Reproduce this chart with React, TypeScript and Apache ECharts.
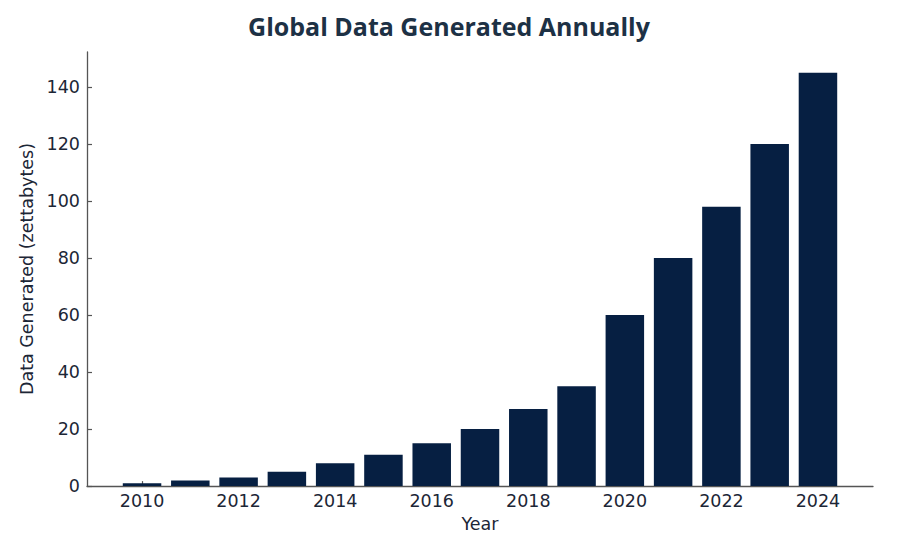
import React, { useEffect, useRef } from "react";
import * as echarts from "echarts";

const years = [2010, 2011, 2012, 2013, 2014, 2015, 2016, 2017, 2018, 2019, 2020, 2021, 2022, 2023, 2024];
const dataZB = [1, 2, 3, 5, 8, 11, 15, 20, 27, 35, 60, 80, 98, 120, 145];
const xTickYears = [2010, 2012, 2014, 2016, 2018, 2020, 2022, 2024];
const yTicks = [0, 20, 40, 60, 80, 100, 120, 140];

const TITLE = "Global Data Generated Annually";
const X_NAME = "Year";
const Y_NAME = "Data Generated (zettabytes)";

export default function App() {
  const ref = useRef<HTMLDivElement>(null);
  useEffect(() => {
    document.body.style.margin = "0";
    if (!ref.current) return;
    const chart = echarts.init(ref.current, undefined, { renderer: "svg" });
    const textColor = "#1c2636";
    const axisColor = "#555555";
    const font = "DejaVu Sans";
    const fs = 17.5;
    chart.setOption({
      animation: false,
      backgroundColor: "#ffffff",
      title: {
        text: TITLE,
        left: "center",
        top: 8,
        textStyle: {
          fontFamily: "Open Sans",
          fontWeight: 700,
          fontSize: 25,
          color: "#1d3145",
        },
      },
      grid: { left: 87, right: 25, top: 52, bottom: 48, containLabel: false },
      xAxis: {
        type: "value",
        min: 2008.86,
        max: 2025.14,
        name: X_NAME,
        nameLocation: "middle",
        nameGap: 26,
        nameTextStyle: { fontFamily: font, fontSize: fs, color: textColor },
        axisLine: { show: true, lineStyle: { color: axisColor, width: 1.3 } },
        axisTick: {
          show: true,
          inside: true,
          length: 5,
          customValues: xTickYears,
          lineStyle: { color: axisColor, width: 1.2 },
        },
        axisLabel: {
          customValues: xTickYears,
          fontFamily: font,
          fontSize: fs,
          color: textColor,
          margin: 6,
          formatter: (v: number) => String(v),
        },
        splitLine: { show: false },
      },
      yAxis: {
        type: "value",
        min: 0,
        max: 152.25,
        name: Y_NAME,
        nameLocation: "middle",
        nameGap: 46,
        nameTextStyle: { fontFamily: font, fontSize: fs, color: textColor },
        axisLine: { show: true, lineStyle: { color: axisColor, width: 1.3 } },
        axisTick: {
          show: true,
          inside: true,
          length: 5,
          customValues: yTicks,
          lineStyle: { color: axisColor, width: 1.2 },
        },
        axisLabel: {
          customValues: yTicks,
          fontFamily: font,
          fontSize: fs,
          color: textColor,
          margin: 7,
        },
        splitLine: { show: false },
      },
      series: [
        {
          type: "bar",
          data: years.map((y, i) => [y, dataZB[i]]),
          barWidth: 38.5,
          itemStyle: { color: "#061f42" },
          z: 1,
        },
      ],
    });
    return () => chart.dispose();
  }, []);
  return (
    <div
      ref={ref}
      style={{ position: "fixed", left: 0, top: 0, width: 898, height: 538 }}
    />
  );
}
